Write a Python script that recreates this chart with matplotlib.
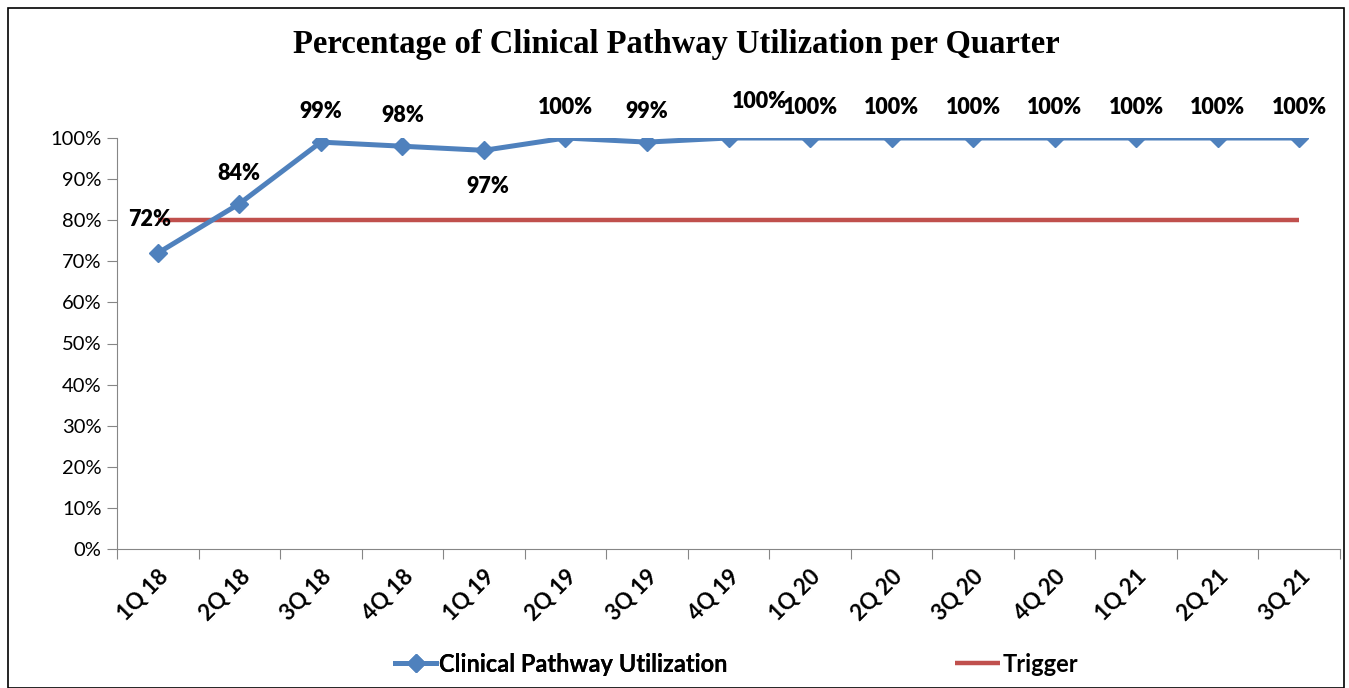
import matplotlib
matplotlib.use("Agg")
import matplotlib.pyplot as plt
from matplotlib.patches import Rectangle
import numpy as np

quarters = ["1Q 18", "2Q 18", "3Q 18", "4Q 18", "1Q 19", "2Q 19", "3Q 19", "4Q 19",
            "1Q 20", "2Q 20", "3Q 20", "4Q 20", "1Q 21", "2Q 21", "3Q 21"]
utilization = [72, 84, 99, 98, 97, 100, 99, 100, 100, 100, 100, 100, 100, 100, 100]
trigger = [80] * 15
yticks = [0, 10, 20, 30, 40, 50, 60, 70, 80, 90, 100]

BLUE = "#4F81BD"
RED = "#C0504D"
GRAY = "#868686"
SANS = ["Lato", "DejaVu Sans"]

fig = plt.figure(figsize=(13.49, 6.88), dpi=100)
ax = fig.add_axes([117/1349, 1-549/688, (1340-117)/1349, (549-138)/688])

x = np.arange(len(quarters))
l_trig, = ax.plot(x, trigger, color=RED, lw=3.2, solid_capstyle="butt", label="Trigger", zorder=2)
l_util, = ax.plot(x, utilization, color=BLUE, lw=3.6, marker="D", ms=9,
                  label="Clinical Pathway Utilization", zorder=3)

# data labels (offsets in points)
offsets = {0: (-6, 24), 4: (3, -26), 7: (22, 26)}
for i, v in enumerate(utilization):
    dx, dy = offsets.get(i, (0, 22))
    ax.annotate(f"{v}%", (x[i], v), xytext=(dx, dy), textcoords="offset points",
                ha="center", va="center", fontsize=15.5, fontweight="heavy",
                family=SANS, color="black", zorder=5)

ax.set_xlim(-0.5, len(quarters) - 0.5)
ax.set_ylim(0, 100)
ax.set_yticks(yticks)
ax.set_yticklabels([f"{t}%" for t in yticks], family=SANS, fontsize=14.5)
ax.set_xticks(np.arange(len(quarters) + 1) - 0.5)
ax.set_xticklabels([])
ax.set_xticks(x, minor=True)
ax.set_xticklabels(quarters, minor=True, rotation=45, ha="right", va="top",
                   rotation_mode="anchor", family=SANS, fontsize=16, fontweight="bold")
ax.tick_params(axis="x", which="minor", length=0, pad=12)
ax.tick_params(axis="x", which="major", length=7, color=GRAY, direction="out")
ax.tick_params(axis="y", length=7, color=GRAY, direction="out", pad=4)
for s in ["top", "right"]:
    ax.spines[s].set_visible(False)
ax.spines["left"].set_color(GRAY)
ax.spines["bottom"].set_color(GRAY)

fig.text(676/1349, 1-44/688, "Percentage of Clinical Pathway Utilization per Quarter",
         ha="center", va="center", fontsize=23.5, fontweight="bold",
         family=["Liberation Serif", "DejaVu Serif"])

legprop = {"family": SANS, "weight": "bold", "size": 17}
leg1 = fig.legend(handles=[l_util], loc="center left", bbox_to_anchor=(395/1349, 1-664/688),
                  frameon=False, borderpad=0, borderaxespad=0, handlelength=1.75,
                  handletextpad=0.1, prop=legprop)
fig.add_artist(leg1)
leg2 = fig.legend(handles=[l_trig], loc="center left", bbox_to_anchor=(955/1349, 1-664/688),
                  frameon=False, borderpad=0, borderaxespad=0, handlelength=1.9,
                  handletextpad=0.1, prop=legprop)

fig.patches.append(Rectangle((8/1349, 0), (1344-8)/1349, 1-8/688, transform=fig.transFigure,
                             fill=False, edgecolor="black", lw=1.2))

fig.savefig("out.png", dpi=100)
